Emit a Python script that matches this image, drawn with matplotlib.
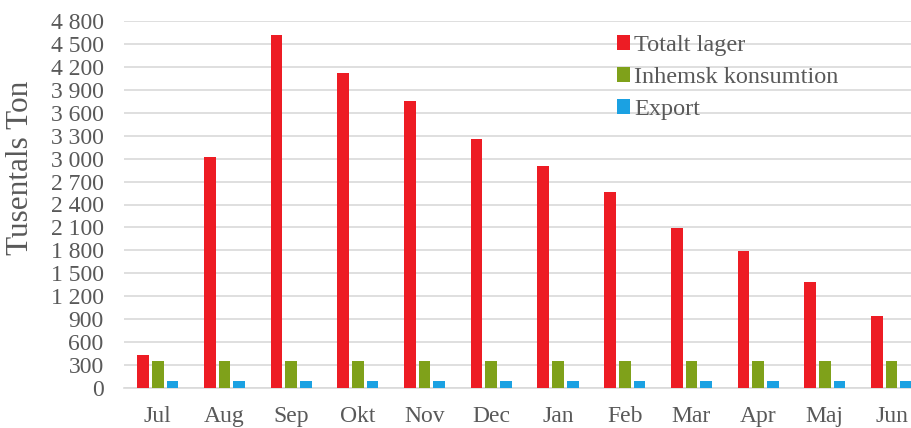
import matplotlib
matplotlib.use("Agg")
import matplotlib.pyplot as plt
import numpy as np
from matplotlib.ticker import FuncFormatter, MultipleLocator

months = ["Jul", "Aug", "Sep", "Okt", "Nov", "Dec", "Jan", "Feb", "Mar", "Apr", "Maj", "Jun"]
totalt_lager = [430, 3020, 4610, 4120, 3750, 3260, 2900, 2560, 2090, 1790, 1390, 950]
inhemsk = [360, 360, 360, 360, 360, 360, 360, 360, 360, 360, 360, 360]
export = [100, 100, 100, 100, 100, 100, 100, 100, 100, 100, 100, 100]
series_names = ["Totalt lager", "Inhemsk konsumtion", "Export"]
colors = ["#ED1C24", "#7FA11A", "#1BA1E2"]

plt.rcParams['font.family'] = ['Liberation Serif', 'DejaVu Serif']
txt = "#595959"

fig = plt.figure(figsize=(9.12, 4.28), dpi=100)
ax = fig.add_axes([124.5 / 912, 39.7 / 428, 800.3 / 912, 367.6 / 428])

x = np.arange(len(months))
w = 0.175
step = 0.22
for i, (vals, name, c) in enumerate(zip([totalt_lager, inhemsk, export], series_names, colors)):
    ax.bar(x + (i - 1) * step, vals, width=w, color=c, label=name, zorder=3)

ax.set_xlim(-0.5, len(months) - 0.5)
ax.set_ylim(0, 4800)
ax.yaxis.set_major_locator(MultipleLocator(300))
ax.yaxis.set_major_formatter(FuncFormatter(lambda v, p: f"{int(v):,}".replace(",", " ")))
ax.grid(axis='y', color='#d9d9d9', linewidth=1.2, zorder=0)
ax.set_axisbelow(True)
for s in ["top", "right", "left"]:
    ax.spines[s].set_visible(False)
ax.spines["bottom"].set_color('#d9d9d9')
ax.spines["bottom"].set_linewidth(1.2)
ax.tick_params(axis='both', length=0, labelsize=17, labelcolor=txt)
ax.tick_params(axis='y', pad=15)
ax.tick_params(axis='x', pad=13)
ax.set_xticks(x)
ax.set_xticklabels(months)
ax.set_ylabel("Tusentals Ton", fontsize=22.5, color=txt)
ax.yaxis.set_label_coords(21 / 912, 1 - 168 / 428, transform=fig.transFigure)
ax.yaxis.label.set_va('center')

leg = ax.legend(loc='upper left', bbox_to_anchor=(600 / 912, 1 - 18 / 428), bbox_transform=fig.transFigure,
                frameon=False, fontsize=17.5, handlelength=0.55, handleheight=0.55, handletextpad=0.15,
                labelspacing=0.45, labelcolor=txt, borderpad=0.2)

fig.savefig("out.png", dpi=100)
